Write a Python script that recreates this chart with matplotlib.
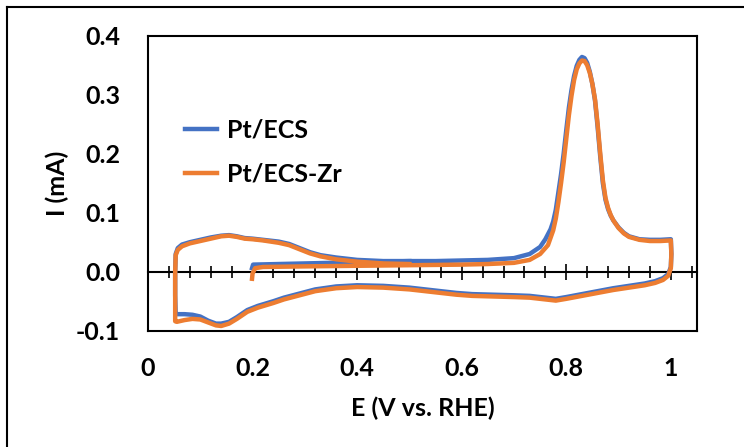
import matplotlib.pyplot as plt
from matplotlib.lines import Line2D
from matplotlib.ticker import MultipleLocator

plt.rcParams['font.family'] = ['Lato', 'DejaVu Sans']
plt.rcParams['font.weight'] = 'bold'

# Pt/ECS  (anodic from 0.2 V -> 1.0 V, cathodic back to 0.05 V, anodic again)
x_ecs = [0.199, 0.201, 0.25, 0.30, 0.35, 0.40, 0.45, 0.50, 0.55, 0.60, 0.65, 0.70, 0.73,
         0.75, 0.76, 0.77, 0.775, 0.78, 0.785, 0.79, 0.795, 0.80, 0.805, 0.81, 0.815, 0.82,
         0.825, 0.83, 0.835, 0.84, 0.845, 0.85, 0.855, 0.86, 0.865, 0.87, 0.875, 0.88,
         0.885, 0.89, 0.90, 0.91, 0.92, 0.94, 0.96, 0.98, 1.00,
         1.001, 1.000, 0.995, 0.985, 0.97, 0.95, 0.92, 0.89, 0.86, 0.83, 0.80, 0.78, 0.76,
         0.73, 0.70, 0.66, 0.62, 0.59, 0.55, 0.50, 0.45, 0.40, 0.36, 0.32, 0.29, 0.26,
         0.24, 0.21, 0.19, 0.17, 0.155, 0.14, 0.13, 0.115, 0.10, 0.085, 0.07, 0.055, 0.053,
         0.052, 0.052, 0.053, 0.057, 0.065, 0.08, 0.10, 0.12, 0.14, 0.155, 0.17, 0.185,
         0.20, 0.22, 0.25, 0.27, 0.29, 0.31, 0.33, 0.36, 0.40, 0.45, 0.50]
y_ecs = [0.006, 0.012, 0.013, 0.014, 0.015, 0.016, 0.017, 0.018, 0.018, 0.019, 0.020, 0.023,
         0.030, 0.042, 0.055, 0.072, 0.085, 0.105, 0.135, 0.165, 0.200, 0.240, 0.278, 0.308,
         0.332, 0.349, 0.359, 0.364, 0.362, 0.354, 0.339, 0.318, 0.290, 0.245, 0.195, 0.150,
         0.122, 0.106, 0.095, 0.087, 0.075, 0.066, 0.060, 0.055, 0.054, 0.054, 0.055,
         0.030, 0.008, -0.004, -0.011, -0.016, -0.020, -0.024, -0.028, -0.033, -0.038,
         -0.043, -0.046, -0.044, -0.041, -0.040, -0.039, -0.038, -0.036, -0.032, -0.027,
         -0.024, -0.023, -0.025, -0.030, -0.037, -0.044, -0.050, -0.058, -0.065, -0.077,
         -0.085, -0.088, -0.088, -0.083, -0.076, -0.073, -0.072, -0.072, -0.072,
         -0.040, 0.000, 0.030, 0.040, 0.046, 0.050, 0.054, 0.058, 0.061, 0.062, 0.060,
         0.057, 0.056, 0.054, 0.051, 0.047, 0.040, 0.033, 0.028, 0.024, 0.020, 0.018, 0.018]

# Pt/ECS-Zr
x_zr = [0.199, 0.200, 0.205, 0.22, 0.30, 0.40, 0.50, 0.60, 0.65, 0.70, 0.73, 0.75, 0.765,
        0.775, 0.78, 0.785, 0.79, 0.795, 0.80, 0.805, 0.81, 0.815, 0.82, 0.825, 0.83,
        0.835, 0.84, 0.845, 0.85, 0.855, 0.86, 0.865, 0.87, 0.875, 0.88, 0.885, 0.89,
        0.90, 0.91, 0.92, 0.94, 0.96, 0.98, 1.00,
        1.001, 1.000, 0.995, 0.985, 0.97, 0.95, 0.92, 0.89, 0.86, 0.83, 0.80, 0.78, 0.76,
        0.73, 0.70, 0.66, 0.62, 0.59, 0.55, 0.50, 0.45, 0.40, 0.36, 0.32, 0.29, 0.26,
        0.24, 0.21, 0.19, 0.17, 0.155, 0.14, 0.13, 0.115, 0.10, 0.085, 0.07, 0.055, 0.052,
        0.052, 0.052, 0.053, 0.057, 0.065, 0.08, 0.10, 0.12, 0.14, 0.155, 0.17, 0.185,
        0.20, 0.22, 0.25, 0.27, 0.29, 0.31, 0.33, 0.36, 0.40, 0.45, 0.50]
y_zr = [-0.012, -0.003, 0.006, 0.008, 0.009, 0.010, 0.011, 0.012, 0.013, 0.015, 0.020,
        0.030, 0.045, 0.070, 0.090, 0.118, 0.150, 0.185, 0.225, 0.265, 0.298, 0.325,
        0.343, 0.353, 0.358, 0.357, 0.350, 0.337, 0.318, 0.292, 0.250, 0.200, 0.155,
        0.125, 0.108, 0.096, 0.087, 0.074, 0.065, 0.059, 0.054, 0.052, 0.052, 0.053,
        0.030, 0.006, -0.007, -0.014, -0.019, -0.023, -0.027, -0.031, -0.036, -0.041,
        -0.046, -0.049, -0.047, -0.044, -0.043, -0.042, -0.041, -0.039, -0.035, -0.030,
        -0.027, -0.026, -0.028, -0.033, -0.040, -0.047, -0.053, -0.061, -0.068, -0.080,
        -0.088, -0.092, -0.091, -0.086, -0.081, -0.080, -0.082, -0.085, -0.084,
        -0.040, 0.000, 0.028, 0.037, 0.043, 0.048, 0.052, 0.056, 0.060, 0.061, 0.059,
        0.056, 0.055, 0.053, 0.049, 0.045, 0.038, 0.031, 0.026, 0.021, 0.017, 0.014, 0.013]

x_ticks = [0, 0.2, 0.4, 0.6, 0.8, 1]
x_ticklabels = ['0', '0.2', '0.4', '0.6', '0.8', '1']
y_ticks = [-0.1, 0.0, 0.1, 0.2, 0.3, 0.4]
y_ticklabels = ['-0.1', '0.0', '0.1', '0.2', '0.3', '0.4']

fig = plt.figure(figsize=(7.44, 4.47), dpi=100)
ax = fig.add_axes([0.1989, 0.2602, 0.7379, 0.6599])

ax.plot(x_ecs, y_ecs, color='#4472C4', lw=3.2, label='Pt/ECS', solid_joinstyle='round')
ax.plot(x_zr, y_zr, color='#ED7D31', lw=3.2, label='Pt/ECS-Zr', solid_joinstyle='round')

ax.set_xlim(0, 1.05)
ax.set_ylim(-0.1, 0.4)
for s in ax.spines.values():
    s.set_linewidth(1.5)
    s.set_color('black')

ax.set_xticks(x_ticks)
ax.set_xticklabels(x_ticklabels)
ax.set_yticks(y_ticks)
ax.set_yticklabels(y_ticklabels)
ax.tick_params(axis='both', length=0, labelsize=18)
ax.tick_params(axis='x', pad=19)
ax.tick_params(axis='y', pad=20)

# axis line at I = 0 with crossing tick marks
sec = ax.secondary_xaxis(0.2)
sec.spines['bottom'].set_linewidth(1.5)
sec.xaxis.set_major_locator(MultipleLocator(0.2))
sec.xaxis.set_minor_locator(MultipleLocator(0.04))
sec.tick_params(which='major', direction='inout', length=12, width=1.2, labelbottom=False)
sec.tick_params(which='minor', direction='inout', length=8, width=1.2)

ax.set_xlabel('E (V vs. RHE)', fontsize=18, fontweight='bold', labelpad=12)
ax.set_ylabel('I (mA)', fontsize=18, fontweight='bold', labelpad=5)

ax.legend(loc='upper left', bbox_to_anchor=(0.049, 0.754), frameon=False, fontsize=18,
          handlelength=1.3, handletextpad=0.4, labelspacing=0.84, borderaxespad=0)

# outer chart border (left and top edges visible)
fig.add_artist(Line2D([7 / 744, 7 / 744], [0, 1 - 7 / 447], transform=fig.transFigure,
                      color='black', lw=1.5))
fig.add_artist(Line2D([7 / 744, 1], [1 - 7 / 447, 1 - 7 / 447], transform=fig.transFigure,
                      color='black', lw=1.5))

fig.savefig('out.png', dpi=100)
